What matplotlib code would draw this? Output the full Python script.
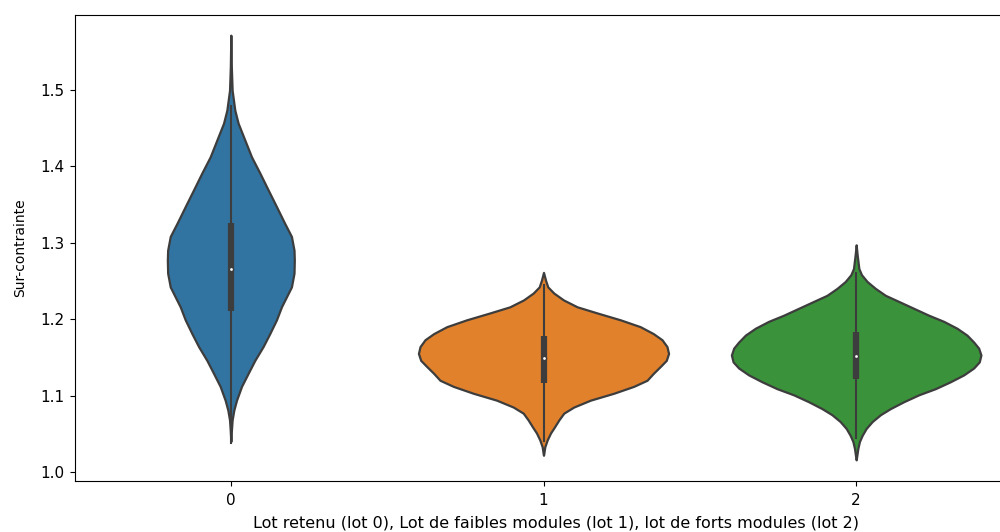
import numpy as np
import matplotlib
matplotlib.use("Agg")
import matplotlib.pyplot as plt
from matplotlib.ticker import MultipleLocator

# =========================
# Data
# =========================
LOTS = ["0", "1", "2"]
COLORS = ["#3274a1", "#e1812c", "#3a923a"]
EDGE = "#3d3d3d"

# estimated density of the sur-contrainte for each lot (value, relative density)
LOT0_Y = [1.040, 1.055, 1.068, 1.081, 1.094, 1.112, 1.129, 1.146, 1.164, 1.181,
          1.199, 1.216, 1.229, 1.242, 1.260, 1.277, 1.290, 1.308, 1.325, 1.347,
          1.369, 1.391, 1.412, 1.434, 1.456, 1.473, 1.499, 1.530, 1.571]
LOT0_D = [0.0, 0.6, 1.3, 3.0, 5.7, 10.7, 17.3, 24.0, 32.3, 39.0,
          45.7, 50.7, 55.7, 60.7, 63.3, 63.6, 63.3, 60.7, 54.0, 45.7,
          37.3, 29.0, 20.7, 14.0, 7.3, 4.0, 1.3, 0.5, 0.0]

LOT1_Y = [1.022, 1.024, 1.033, 1.042, 1.051, 1.059, 1.068, 1.077, 1.085, 1.094,
          1.103, 1.112, 1.120, 1.129, 1.138, 1.146, 1.155, 1.164, 1.173, 1.181,
          1.190, 1.199, 1.208, 1.216, 1.225, 1.234, 1.242, 1.251, 1.261]
LOT1_D = [0.0, 0.3, 1.3, 3.7, 7.0, 11.0, 15.3, 20.3, 30.3, 47.0,
          70.3, 90.3, 103.7, 110.0, 117.0, 123.0, 125.3, 123.7, 118.7, 110.0,
          97.0, 77.0, 53.7, 33.7, 20.0, 10.3, 4.3, 2.0, 0.0]

LOT2_Y = [1.016, 1.022, 1.031, 1.040, 1.048, 1.057, 1.066, 1.075, 1.083, 1.092,
          1.101, 1.109, 1.118, 1.127, 1.136, 1.144, 1.153, 1.162, 1.170, 1.179,
          1.188, 1.197, 1.205, 1.214, 1.223, 1.231, 1.240, 1.249, 1.258, 1.266,
          1.284, 1.297]
LOT2_D = [0.0, 0.7, 1.7, 3.3, 6.0, 10.0, 16.0, 24.3, 34.3, 47.7,
          62.7, 79.3, 94.3, 107.7, 117.7, 123.3, 125.0, 122.7, 117.7, 111.0,
          101.0, 87.7, 72.7, 57.7, 42.7, 29.3, 19.3, 11.0, 5.3, 2.7,
          1.0, 0.0]

# box statistics: lower whisker, q1, median, q3, upper whisker
LOT0_BOX = [1.038, 1.210, 1.266, 1.325, 1.478]
LOT1_BOX = [1.040, 1.117, 1.149, 1.178, 1.244]
LOT2_BOX = [1.044, 1.121, 1.152, 1.183, 1.260]


def violin_stats(ys, dens, box):
    return {
        "coords": np.array(ys),
        "vals": np.array(dens),
        "mean": box[2],
        "median": box[2],
        "min": box[0],
        "max": box[4],
    }


def main():
    fig = plt.figure(figsize=(10, 5.32), dpi=100)
    ax = fig.add_axes([0.0745, 0.0968, 0.938, 0.8752])

    profiles = [LOT0_D, LOT1_D, LOT2_D]
    stats = [violin_stats(LOT0_Y, LOT0_D, LOT0_BOX),
             violin_stats(LOT1_Y, LOT1_D, LOT1_BOX),
             violin_stats(LOT2_Y, LOT2_D, LOT2_BOX)]
    boxes = [LOT0_BOX, LOT1_BOX, LOT2_BOX]

    # area scaling: the widest violin gets width 0.8
    peak = max(max(d) for d in profiles)
    widths = [0.8 * max(d) / peak for d in profiles]
    positions = np.arange(len(LOTS))

    parts = ax.violin(stats, positions=positions, widths=widths,
                      showextrema=False)
    for body, color in zip(parts["bodies"], COLORS):
        body.set_facecolor(color)
        body.set_edgecolor(EDGE)
        body.set_linewidth(1.6)
        body.set_alpha(1)

    # inner box: whiskers, interquartile bar and median dot
    for pos, box in zip(positions, boxes):
        ax.plot([pos, pos], [box[0], box[4]], color=EDGE, lw=1.5)
        ax.plot([pos, pos], [box[1], box[3]], color=EDGE, lw=4.5,
                solid_capstyle="butt")
        ax.scatter(pos, box[2], s=9, color="white", edgecolor=EDGE,
                   zorder=3)

    ax.set_xlim(-0.5, 2.5)
    ax.set_ylim(0.989, 1.5975)
    ax.set_xticks(positions)
    ax.set_xticklabels(LOTS)
    ax.yaxis.set_major_locator(MultipleLocator(0.1))
    ax.tick_params(labelsize=11)
    ax.tick_params(axis="x", pad=5.5)
    ax.set_ylabel("Sur-contrainte", labelpad=10)
    ax.set_xlabel("Lot retenu (lot 0), Lot de faibles modules (lot 1), "
                  "lot de forts modules (lot 2)", fontsize=11.5)
    ax.xaxis.set_label_coords(0.513, -0.075)

    fig.savefig("out.png", dpi=100)
    plt.close(fig)


if __name__ == "__main__":
    main()
